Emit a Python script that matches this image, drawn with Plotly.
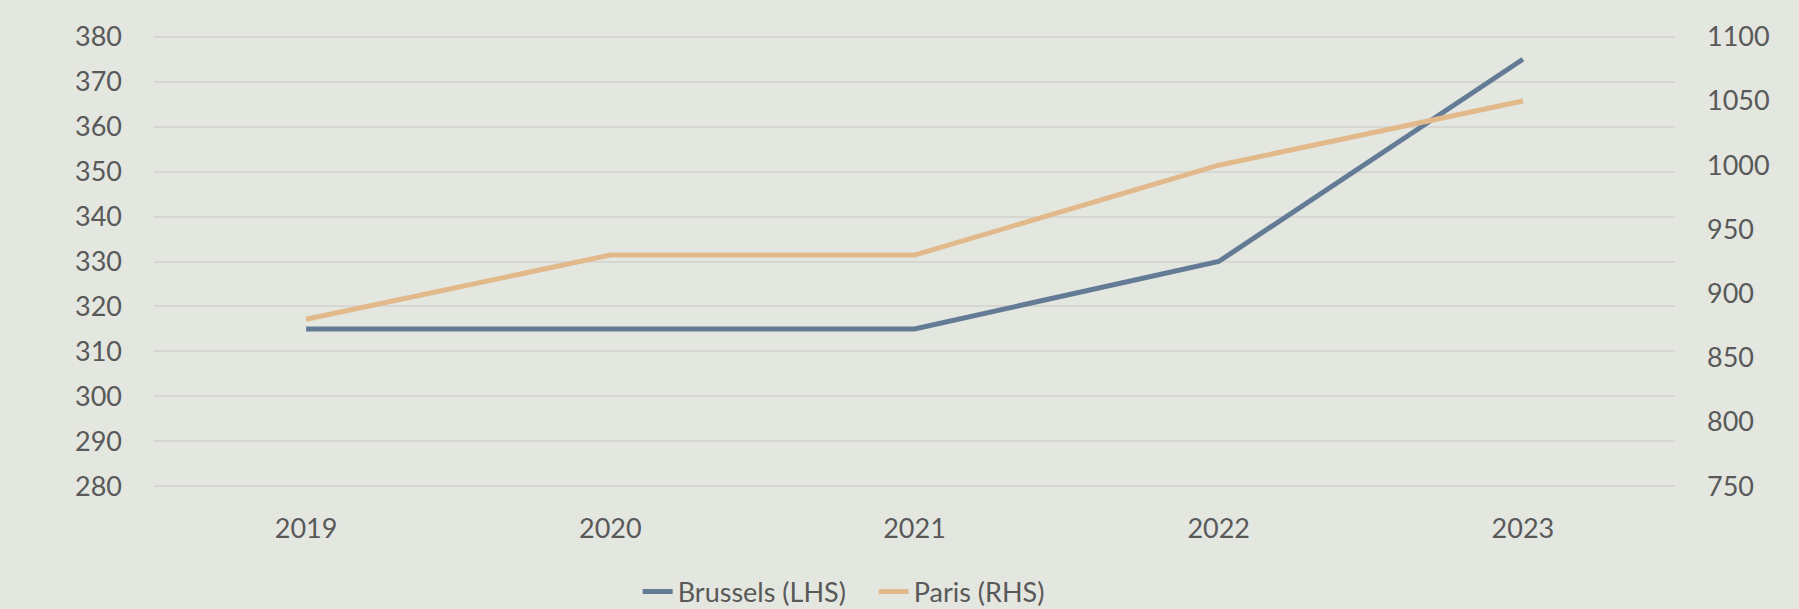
import plotly.graph_objects as go

years = ["2019", "2020", "2021", "2022", "2023"]
brussels = [315, 315, 315, 330, 375]
paris = [880, 930, 930, 1000, 1050]

left_ticks = [280, 290, 300, 310, 320, 330, 340, 350, 360, 370, 380]
right_ticks = [750, 800, 850, 900, 950, 1000, 1050, 1100]

BG = "#e4e7e0"
TXT = "#595959"
GRID = "#d6d7d3"

fig = go.Figure()
fig.add_trace(go.Scatter(
    x=years, y=brussels, name="Brussels (LHS)", mode="lines",
    line=dict(color="#647b96", width=5), yaxis="y"))
fig.add_trace(go.Scatter(
    x=years, y=paris, name="Paris (RHS)", mode="lines",
    line=dict(color="#e2b98a", width=5), yaxis="y2"))

pad_l = 0.4
pad_r = pad_l * 3.5

fig.update_layout(
    width=1799, height=609,
    paper_bgcolor=BG, plot_bgcolor=BG,
    margin=dict(l=154, r=124, t=35, b=121, autoexpand=False),
    font=dict(family="Lato, Open Sans, sans-serif", size=27, color=TXT),
    showlegend=True,
    legend=dict(orientation="h", x=0.318, xanchor="left",
                yref="container", y=0.028, yanchor="middle",
                font=dict(family="Lato, sans-serif", size=27, color=TXT),
                bgcolor="rgba(0,0,0,0)", itemwidth=30, tracegroupgap=0,
                entrywidth=191, entrywidthmode="pixels"),
    xaxis=dict(type="category", range=[-0.5, 4.5], showgrid=False, zeroline=False,
               showline=False, ticks="", ticklabelstandoff=22,
               tickfont=dict(size=27, color=TXT)),
    yaxis=dict(range=[280 - pad_l, 380 + pad_l], tickvals=left_ticks, showgrid=True,
               gridcolor=GRID, gridwidth=2, zeroline=False, showline=False, ticks="",
               ticklabelstandoff=31, tickfont=dict(size=27, color=TXT)),
    yaxis2=dict(range=[750 - pad_r, 1100 + pad_r], tickvals=right_ticks, overlaying="y",
                side="right", showgrid=False, zeroline=False, showline=False, ticks="",
                ticklabelstandoff=31, tickfont=dict(size=27, color=TXT)),
)

fig.write_html("out.html", config={"displayModeBar": False},
               post_script="document.body.style.margin='0';document.body.style.overflow='hidden';")
